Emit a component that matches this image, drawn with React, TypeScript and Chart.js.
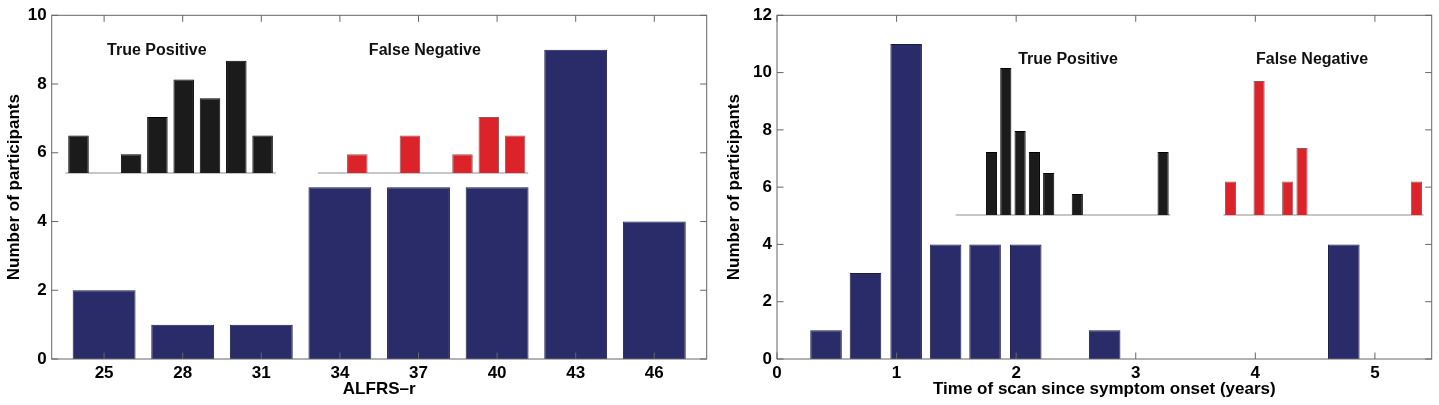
import React, { useEffect, useRef } from 'react';
import { Chart, registerables } from 'chart.js';

Chart.register(...registerables);

// ALSFRS-r panel
const alsfrsBins = [25, 28, 31, 34, 37, 40, 43, 46];
const alsfrsCounts = [2, 1, 1, 5, 5, 5, 9, 4];
const tpAlsfrsHist = [2, 0, 1, 3, 5, 4, 6, 2];
const fnAlsfrsHist = [0, 1, 0, 2, 0, 1, 3, 2];

// time since onset panel
const onsetBinCenters = [0.41, 0.74, 1.08, 1.41, 1.74, 2.08, 2.41, 2.74, 3.08, 3.41, 3.74, 4.08, 4.41, 4.74];
const onsetCounts = [1, 3, 11, 4, 4, 4, 0, 1, 0, 0, 0, 0, 0, 4];
const tpOnsetHist = [0, 0, 3, 7, 4, 3, 2, 0, 1, 0, 0, 0, 0, 0, 3];
const fnOnsetHist = [1, 0, 4, 0, 1, 2, 0, 0, 0, 0, 0, 0, 0, 1];

const yTicksLeft = [0, 2, 4, 6, 8, 10];
const yTicksRight = [0, 2, 4, 6, 8, 10, 12];
const onsetTicks = [0, 1, 2, 3, 4, 5];

const BLUE = '#2a2c6a';
const RED = '#dc2329';
const BLACK = '#1b1b1b';
const FONT = "'Liberation Sans', Arial, Helvetica, sans-serif";

// maps a px position inside the plot area to an axis range for an inset
const insetRange = (plotStart: number, plotLen: number, originPx: number, stepPx: number) => {
  const min = -(originPx - plotStart) / stepPx;
  return { min, max: min + plotLen / stepPx };
};
const insetYRange = (plotBottom: number, plotLen: number, basePx: number, unitPx: number) => {
  const min = -(plotBottom - basePx) / unitPx;
  return { min, max: min + plotLen / unitPx };
};

const boxPlugin = {
  id: 'matBox',
  afterDatasetsDraw(chart: any) {
    const { ctx, chartArea: a, scales } = chart;
    const t = 6.5;
    ctx.save();
    ctx.strokeStyle = '#666';
    ctx.lineWidth = 1;
    ctx.strokeRect(a.left, a.top, a.right - a.left, a.bottom - a.top);
    ctx.beginPath();
    scales.x.ticks.forEach((tk: any) => {
      const px = scales.x.getPixelForValue(tk.value);
      ctx.moveTo(px, a.bottom); ctx.lineTo(px, a.bottom - t);
      ctx.moveTo(px, a.top); ctx.lineTo(px, a.top + t);
    });
    scales.y.ticks.forEach((tk: any) => {
      const py = scales.y.getPixelForValue(tk.value);
      ctx.moveTo(a.left, py); ctx.lineTo(a.left + t, py);
      ctx.moveTo(a.right, py); ctx.lineTo(a.right - t, py);
    });
    ctx.stroke();
    ctx.restore();
  },
};

const labelPlugin = {
  id: 'insetLabels',
  afterDatasetsDraw(chart: any, _args: any, opts: any) {
    const { ctx, scales } = chart;
    ctx.save();
    ctx.font = `bold 16px ${FONT}`;
    ctx.fillStyle = '#111';
    ctx.textAlign = 'center';
    ctx.textBaseline = 'middle';
    (opts.items || []).forEach((it: any) => {
      ctx.fillText(it.text, scales[it.scale].getPixelForValue(it.x), it.y);
    });
    ctx.restore();
  },
};

const histSet = (hist: number[], color: string, edge: string, xAxisID: string, yAxisID: string) => ({
  type: 'bar',
  data: hist.map((v, i) => ({ x: i, y: v })),
  backgroundColor: color,
  borderColor: edge,
  borderWidth: 1,
  barPercentage: 0.78,
  categoryPercentage: 1,
  grouped: false,
  xAxisID,
  yAxisID,
  order: 0,
});

const baseLine = (hist: number[], xAxisID: string, yAxisID: string) => ({
  type: 'line',
  data: [{ x: -0.5, y: 0 }, { x: hist.length - 0.5, y: 0 }],
  borderColor: '#b5b5b5',
  borderWidth: 1.5,
  pointRadius: 0,
  xAxisID,
  yAxisID,
  order: 1,
});

const hidden = (r: { min: number; max: number }, axis: 'x' | 'y') => ({
  type: 'linear',
  axis,
  display: false,
  min: r.min,
  max: r.max,
  offset: false,
  ticks: { stepSize: 1 },
});

const tickFont = { family: FONT, size: 17, weight: 'bold' as const };

function makeOptions(p: {
  yWidth: number; padRight: number;
  xMin: number; xMax: number; xTicks: number[]; yMax: number; yTicks: number[];
  xTitle: string; insetScales: any; labels: any[];
}) {
  return {
    animation: false,
    responsive: true,
    maintainAspectRatio: false,
    events: [],
    layout: { padding: { left: 0, right: p.padRight, top: 15.3, bottom: 0 } },
    plugins: {
      legend: { display: false },
      tooltip: { enabled: false },
      insetLabels: { items: p.labels },
    },
    scales: {
      x: {
        type: 'linear',
        min: p.xMin,
        max: p.xMax,
        offset: false,
        grid: { display: false, drawTicks: false, offset: false },
        border: { display: false },
        afterBuildTicks: (s: any) => { s.ticks = p.xTicks.map((v) => ({ value: v })); },
        afterFit: (s: any) => { s.height = 46; },
        ticks: { font: tickFont, color: '#000', padding: 4, maxRotation: 0, autoSkip: false },
        title: { display: true, text: p.xTitle, font: tickFont, color: '#000', padding: { top: 0, bottom: 5 } },
      },
      y: {
        type: 'linear',
        min: 0,
        max: p.yMax,
        grid: { display: false, drawTicks: false },
        border: { display: false },
        afterBuildTicks: (s: any) => { s.ticks = p.yTicks.map((v) => ({ value: v })); },
        afterFit: (s: any) => { s.width = p.yWidth; },
        ticks: { font: tickFont, color: '#000', padding: 5 },
        title: { display: true, text: 'Number of participants', font: tickFont, color: '#000', padding: { top: 4, bottom: 0 } },
      },
      ...p.insetScales,
    },
  };
}

function useChart(ref: React.RefObject<HTMLCanvasElement>, build: () => any) {
  useEffect(() => {
    const ctx = ref.current?.getContext('2d');
    if (!ctx) return;
    const chart = new Chart(ctx, build());
    return () => chart.destroy();
  }, []);
}

const H = 405;
const PLOT_TOP = 15.3;
const PLOT_BOTTOM = 359;
const PLOT_H = PLOT_BOTTOM - PLOT_TOP;

const mainSet = (xs: number[], ys: number[]) => ({
  type: 'bar',
  data: xs.map((x, i) => ({ x, y: ys[i] })),
  backgroundColor: BLUE,
  borderColor: '#1a1b45',
  borderWidth: 1,
  barPercentage: 0.8,
  categoryPercentage: 1,
  grouped: false,
  order: 2,
});

const AlsfrsPanel = () => {
  const ref = useRef<HTMLCanvasElement>(null);
  useChart(ref, () => {
    const left = 51.7, len = 655;
    const xTP = insetRange(left, len, 78.5, 26.3);
    const xFN = insetRange(left, len, 331, 26.3);
    const yIn = insetYRange(PLOT_BOTTOM, PLOT_H, 173, 18.7);
    return {
      type: 'bar',
      data: {
        datasets: [
          mainSet(alsfrsBins, alsfrsCounts),
          baseLine(tpAlsfrsHist, 'xTP', 'yIn'),
          histSet(tpAlsfrsHist, BLACK, '#000', 'xTP', 'yIn'),
          baseLine(fnAlsfrsHist, 'xFN', 'yIn'),
          histSet(fnAlsfrsHist, RED, '#8c5a5c', 'xFN', 'yIn'),
        ],
      },
      options: makeOptions({
        yWidth: left, padRight: 720 - left - len,
        xMin: 23, xMax: 48, xTicks: alsfrsBins, yMax: 10, yTicks: yTicksLeft,
        xTitle: 'ALFRS–r',
        insetScales: { xTP: hidden(xTP, 'x'), xFN: hidden(xFN, 'x'), yIn: hidden(yIn, 'y') },
        labels: [
          { text: 'True Positive', scale: 'xTP', x: 2.98, y: 51 },
          { text: 'False Negative', scale: 'xFN', x: 3.57, y: 51 },
        ],
      }),
      plugins: [boxPlugin, labelPlugin],
    };
  });
  return (
    <div style={{ position: 'absolute', left: 0, top: 0, width: 720, height: H }}>
      <canvas ref={ref} />
    </div>
  );
};

const OnsetPanel = () => {
  const ref = useRef<HTMLCanvasElement>(null);
  useChart(ref, () => {
    const left = 57, len = 654.7;
    const xTP = insetRange(left, len, 962.9 - 720, 14.3);
    const xFN = insetRange(left, len, 1230.5 - 720, 14.3);
    const yTP = insetYRange(PLOT_BOTTOM, PLOT_H, 215, 21);
    const yFN = insetYRange(PLOT_BOTTOM, PLOT_H, 215, 33.5);
    return {
      type: 'bar',
      data: {
        datasets: [
          mainSet(onsetBinCenters, onsetCounts),
          baseLine(tpOnsetHist, 'xTP', 'yTP'),
          histSet(tpOnsetHist, BLACK, '#000', 'xTP', 'yTP'),
          baseLine(fnOnsetHist, 'xFN', 'yFN'),
          histSet(fnOnsetHist, RED, '#8c5a5c', 'xFN', 'yFN'),
        ],
      },
      options: makeOptions({
        yWidth: left, padRight: 719 - left - len,
        xMin: 0, xMax: 5.475, xTicks: onsetTicks, yMax: 12, yTicks: yTicksRight,
        xTitle: 'Time of scan since symptom onset (years)',
        insetScales: {
          xTP: hidden(xTP, 'x'), xFN: hidden(xFN, 'x'),
          yTP: hidden(yTP, 'y'), yFN: hidden(yFN, 'y'),
        },
        labels: [
          { text: 'True Positive', scale: 'xTP', x: 7.35, y: 60 },
          { text: 'False Negative', scale: 'xFN', x: 5.7, y: 60 },
        ],
      }),
      plugins: [boxPlugin, labelPlugin],
    };
  });
  return (
    <div style={{ position: 'absolute', left: 720, top: 0, width: 719, height: H }}>
      <canvas ref={ref} />
    </div>
  );
};

export default function App() {
  return (
    <div style={{ position: 'absolute', left: 0, top: 0, width: 1439, height: H, background: '#fff', overflow: 'hidden' }}>
      <AlsfrsPanel />
      <OnsetPanel />
    </div>
  );
}
